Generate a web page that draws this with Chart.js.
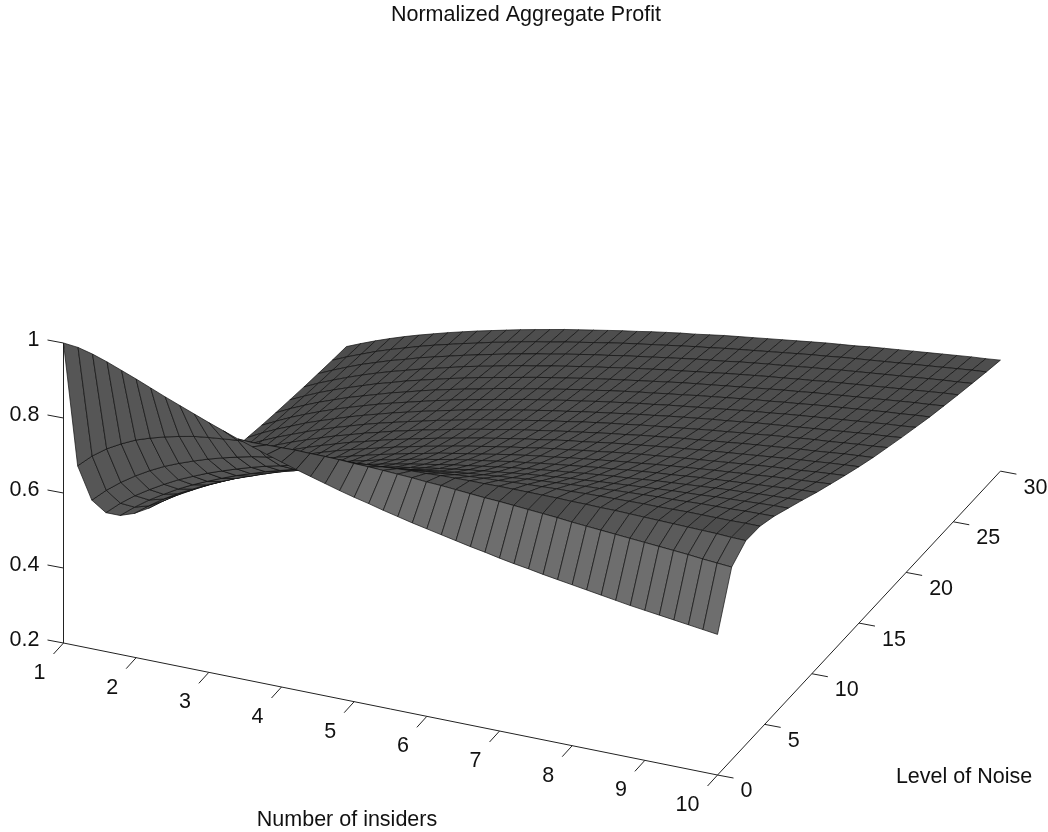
<!DOCTYPE html>
<html>
<head>
<meta charset="utf-8">
<title>Normalized Aggregate Profit</title>
<script src="https://cdn.jsdelivr.net/npm/chart.js@4/dist/chart.umd.min.js"></script>
<style>
html, body { margin: 0; padding: 0; background: #fff; }
canvas { display: block; }
</style>
</head>
<body>
<canvas id="chart" width="1048" height="832"></canvas>
<script>
var insiders = [1,1.2,1.4,1.6,1.8,2,2.2,2.4,2.6,2.8,3,3.2,3.4,3.6,3.8,4,4.2,4.4,4.6,4.8,5,5.2,5.4,5.6,5.8,6,6.2,6.4,6.6,6.8,7,7.2,7.4,7.6,7.8,8,8.2,8.4,8.6,8.8,9,9.2,9.4,9.6,9.8,10];
var noiseLevels = [0,1.5,3,4.5,6,7.5,9,10.5,12,13.5,15,16.5,18,19.5,21,22.5,24,25.5,27,28.5,30];

// one row per noise level, one value per insiders entry
var profit = [
[1,.996,.986,.973,.958,.943,.927,.911,.896,.881,.866,.852,.838,.825,.812,.800,.788,.777,.766,.755,.745,.736,.726,.717,.708,.700,.692,.684,.676,.669,.661,.654,.648,.641,.635,.629,.623,.617,.611,.605,.600,.595,.590,.585,.580,.575],
[.632,.666,.693,.714,.732,.745,.756,.765,.773,.778,.782,.786,.788,.789,.790,.791,.790,.790,.789,.787,.786,.784,.782,.780,.777,.775,.772,.769,.766,.764,.761,.758,.755,.752,.748,.745,.742,.739,.736,.733,.730,.727,.724,.720,.717,.714],
[.500,.534,.563,.588,.610,.629,.645,.659,.672,.683,.693,.702,.709,.716,.722,.727,.732,.736,.740,.743,.745,.748,.750,.751,.753,.754,.755,.755,.756,.756,.756,.756,.756,.755,.755,.754,.754,.753,.752,.751,.750,.749,.748,.747,.745,.744],
[.426,.459,.487,.511,.533,.553,.570,.586,.600,.613,.625,.636,.645,.654,.663,.670,.677,.683,.689,.694,.699,.704,.708,.711,.715,.718,.721,.723,.726,.728,.730,.732,.733,.735,.736,.737,.738,.739,.739,.740,.741,.741,.741,.741,.742,.742],
[.378,.408,.435,.458,.480,.499,.516,.532,.547,.560,.573,.584,.595,.605,.614,.623,.631,.638,.645,.651,.657,.663,.668,.673,.678,.682,.686,.690,.694,.697,.700,.703,.706,.708,.711,.713,.715,.717,.718,.720,.722,.723,.724,.726,.727,.728],
[.343,.371,.397,.419,.439,.458,.475,.491,.505,.519,.532,.543,.554,.564,.574,.583,.592,.600,.607,.614,.621,.627,.633,.639,.644,.649,.654,.659,.663,.667,.671,.674,.678,.681,.684,.687,.690,.693,.695,.697,.700,.702,.704,.706,.708,.709],
[.316,.343,.367,.388,.408,.426,.443,.458,.472,.485,.498,.510,.521,.531,.541,.550,.559,.567,.575,.582,.589,.596,.602,.608,.614,.620,.625,.630,.635,.639,.644,.648,.652,.655,.659,.663,.666,.669,.672,.675,.678,.680,.683,.685,.687,.690],
[.295,.320,.343,.364,.382,.400,.416,.431,.445,.458,.470,.481,.492,.503,.512,.522,.530,.539,.547,.554,.562,.569,.575,.581,.588,.593,.599,.604,.609,.614,.619,.623,.628,.632,.636,.639,.643,.647,.650,.653,.656,.659,.662,.665,.668,.670],
[.277,.301,.323,.343,.361,.378,.393,.408,.421,.434,.446,.457,.468,.478,.488,.497,.506,.514,.523,.530,.537,.544,.551,.558,.564,.570,.575,.581,.586,.591,.596,.601,.605,.610,.614,.618,.622,.626,.629,.633,.636,.640,.643,.646,.649,.652],
[.263,.286,.307,.325,.343,.359,.374,.388,.401,.414,.426,.437,.447,.457,.467,.476,.485,.493,.501,.509,.516,.523,.530,.536,.543,.549,.554,.560,.565,.571,.576,.581,.585,.590,.594,.598,.602,.606,.610,.614,.618,.621,.624,.628,.631,.634],
[.250,.272,.292,.310,.327,.343,.357,.371,.384,.396,.408,.418,.429,.439,.448,.457,.466,.474,.482,.490,.497,.504,.511,.517,.524,.530,.535,.541,.547,.552,.557,.562,.567,.571,.576,.580,.584,.588,.592,.596,.600,.604,.607,.611,.614,.617],
[.239,.260,.280,.297,.314,.329,.343,.356,.369,.380,.392,.402,.413,.422,.432,.440,.449,.457,.465,.472,.480,.487,.493,.500,.506,.512,.518,.524,.529,.535,.540,.545,.550,.554,.559,.563,.568,.572,.576,.580,.584,.587,.591,.595,.598,.601],
[.229,.250,.269,.286,.301,.316,.330,.343,.355,.367,.378,.388,.398,.407,.417,.425,.434,.442,.449,.457,.464,.471,.478,.484,.491,.497,.503,.508,.514,.519,.524,.529,.534,.539,.543,.548,.552,.557,.561,.565,.569,.572,.576,.580,.583,.587],
[.221,.241,.259,.275,.291,.305,.318,.331,.343,.354,.365,.375,.385,.394,.403,.412,.420,.428,.435,.443,.450,.457,.463,.470,.476,.482,.488,.494,.499,.505,.510,.515,.520,.524,.529,.534,.538,.542,.546,.550,.554,.558,.562,.566,.569,.573],
[.213,.232,.250,.266,.281,.295,.308,.320,.332,.343,.353,.363,.373,.382,.391,.399,.407,.415,.423,.430,.437,.444,.450,.457,.463,.469,.475,.480,.486,.491,.496,.501,.506,.511,.516,.520,.525,.529,.533,.537,.541,.545,.549,.553,.556,.560],
[.206,.225,.242,.258,.272,.286,.298,.310,.322,.332,.343,.353,.362,.371,.379,.388,.396,.403,.411,.418,.425,.432,.438,.445,.451,.457,.462,.468,.473,.479,.484,.489,.494,.499,.503,.508,.512,.517,.521,.525,.529,.533,.537,.540,.544,.547],
[.200,.218,.235,.250,.264,.277,.290,.301,.313,.323,.333,.343,.352,.361,.369,.377,.385,.393,.400,.407,.414,.421,.427,.433,.439,.445,.451,.457,.462,.467,.472,.477,.482,.487,.492,.496,.501,.505,.509,.513,.517,.521,.525,.529,.532,.536],
[.194,.212,.228,.243,.257,.270,.282,.293,.304,.314,.324,.334,.343,.351,.360,.368,.375,.383,.390,.397,.404,.410,.417,.423,.429,.435,.440,.446,.451,.457,.462,.467,.472,.476,.481,.485,.490,.494,.498,.502,.506,.510,.514,.518,.522,.525],
[.189,.206,.222,.237,.250,.263,.274,.286,.296,.306,.316,.325,.334,.343,.351,.359,.366,.374,.381,.388,.394,.401,.407,.413,.419,.425,.431,.436,.441,.447,.452,.457,.461,.466,.471,.475,.480,.484,.488,.492,.496,.500,.504,.508,.511,.515],
[.184,.201,.216,.231,.244,.256,.268,.279,.289,.299,.308,.318,.326,.335,.343,.350,.358,.365,.372,.379,.386,.392,.398,.404,.410,.416,.421,.427,.432,.437,.442,.447,.452,.457,.461,.466,.470,.474,.478,.482,.486,.490,.494,.498,.502,.505],
[.180,.196,.211,.225,.238,.250,.261,.272,.282,.292,.301,.310,.319,.327,.335,.343,.350,.357,.364,.371,.377,.384,.390,.396,.401,.407,.413,.418,.423,.428,.433,.438,.443,.448,.452,.456,.461,.465,.469,.473,.477,.481,.485,.489,.492,.496]
];

var insiderTicks = [1,2,3,4,5,6,7,8,9,10];
var noiseTicks = [0,5,10,15,20,25,30];
var profitTicks = [0.2,0.4,0.6,0.8,1];

var titleText = 'Normalized Aggregate Profit';
var insiderLabel = 'Number of insiders';
var noiseLabel = 'Level of Noise';

// view of the box: where insiders=1, noise=0, profit=0.2 lands and how far one unit moves
var view = { x0: 63.5, y0: 643, ix: 72.67, iy: 14.67, nx: 9.43, ny: -10.13, pz: -375 };

function project(i, n, p) {
    return {
        x: view.x0 + (i - 1) * view.ix + n * view.nx,
        y: view.y0 + (i - 1) * view.iy + n * view.ny + (p - 0.2) * view.pz
    };
}

function lineSet(points, color, width) {
    return {
        data: points, showLine: true, fill: false, borderColor: color, borderWidth: width,
        pointRadius: 0, tension: 0, parsing: false
    };
}

function faceColor(k, c) {
    // faces tipped towards the viewer are lit, faces seen from below a little less, the rest dark
    var slope = ((profit[k+1][c] + profit[k+1][c+1]) - (profit[k][c] + profit[k][c+1])) / 2 / (noiseLevels[k+1] - noiseLevels[k]);
    var g = 76 + Math.round(slope > 0 ? Math.min(34, slope * 1100) : Math.min(10, -slope * 300));
    return 'rgb(' + g + ',' + g + ',' + g + ')';
}

var datasets = [];
// chart.js paints the last dataset first, so nearest faces go first in the list
for (var k = 0; k < noiseLevels.length - 1; k++) {
    for (var c = insiders.length - 2; c >= 0; c--) {
        datasets.push({
            data: [
                project(insiders[c], noiseLevels[k], profit[k][c]),
                project(insiders[c+1], noiseLevels[k], profit[k][c+1]),
                project(insiders[c+1], noiseLevels[k+1], profit[k+1][c+1]),
                project(insiders[c], noiseLevels[k+1], profit[k+1][c]),
                project(insiders[c], noiseLevels[k], profit[k][c])
            ],
            fill: 'shape',
            backgroundColor: faceColor(k, c),
            borderColor: '#111',
            borderWidth: 0.7,
            pointRadius: 0,
            tension: 0,
            parsing: false
        });
    }
}

// box edges and ticks
var axisColor = '#222';
datasets.push(lineSet([project(1, 0, 1), project(1, 0, 0.2)], axisColor, 1));
datasets.push(lineSet([project(1, 0, 0.2), project(10, 0, 0.2)], axisColor, 1));
datasets.push(lineSet([project(10, 0, 0.2), project(10, 30, 0.2)], axisColor, 1));
profitTicks.forEach(function(t) {
    var a = project(1, 0, t);
    datasets.push(lineSet([a, { x: a.x - 16, y: a.y - 3 }], axisColor, 1));
});
insiderTicks.forEach(function(t) {
    var a = project(t, 0, 0.2);
    datasets.push(lineSet([a, { x: a.x - 10, y: a.y + 11 }], axisColor, 1));
});
noiseTicks.forEach(function(t) {
    var a = project(10, t, 0.2);
    datasets.push(lineSet([a, { x: a.x + 16, y: a.y + 3 }], axisColor, 1));
});

var textPlugin = {
    id: 'axisText',
    afterDraw: function(chart) {
        var ctx = chart.ctx;
        ctx.save();
        ctx.fillStyle = '#111';
        ctx.textBaseline = 'middle';
        ctx.font = '21.5px "Liberation Sans", Arial, sans-serif';

        ctx.textAlign = 'center';
        ctx.fillText(titleText, 526, 15);
        ctx.fillText(insiderLabel, 347, 820);
        ctx.fillText(noiseLabel, 964, 777);

        ctx.textAlign = 'right';
        profitTicks.forEach(function(t) {
            var a = project(1, 0, t);
            ctx.fillText(String(t), a.x - 24, a.y - 2.5);
        });
        insiderTicks.forEach(function(t) {
            var a = project(t, 0, 0.2);
            ctx.fillText(String(t), a.x - 18, a.y + 30);
        });
        ctx.textAlign = 'left';
        noiseTicks.forEach(function(t) {
            var a = project(10, t, 0.2);
            ctx.fillText(String(t), a.x + 23, a.y + 16.5);
        });
        ctx.restore();
    }
};

var config = {
    type: 'line',
    data: { datasets: datasets },
    options: {
        responsive: false,
        animation: false,
        events: [],
        layout: { padding: 0 },
        plugins: { legend: { display: false }, tooltip: { enabled: false }, title: { display: false } },
        scales: {
            x: { type: 'linear', display: false, min: 0, max: 1048 },
            y: { type: 'linear', display: false, min: 0, max: 832, reverse: true }
        }
    },
    plugins: [textPlugin]
};

var ctx = document.getElementById('chart').getContext('2d');
window.myChart = new Chart(ctx, config);
</script>
</body>
</html>
